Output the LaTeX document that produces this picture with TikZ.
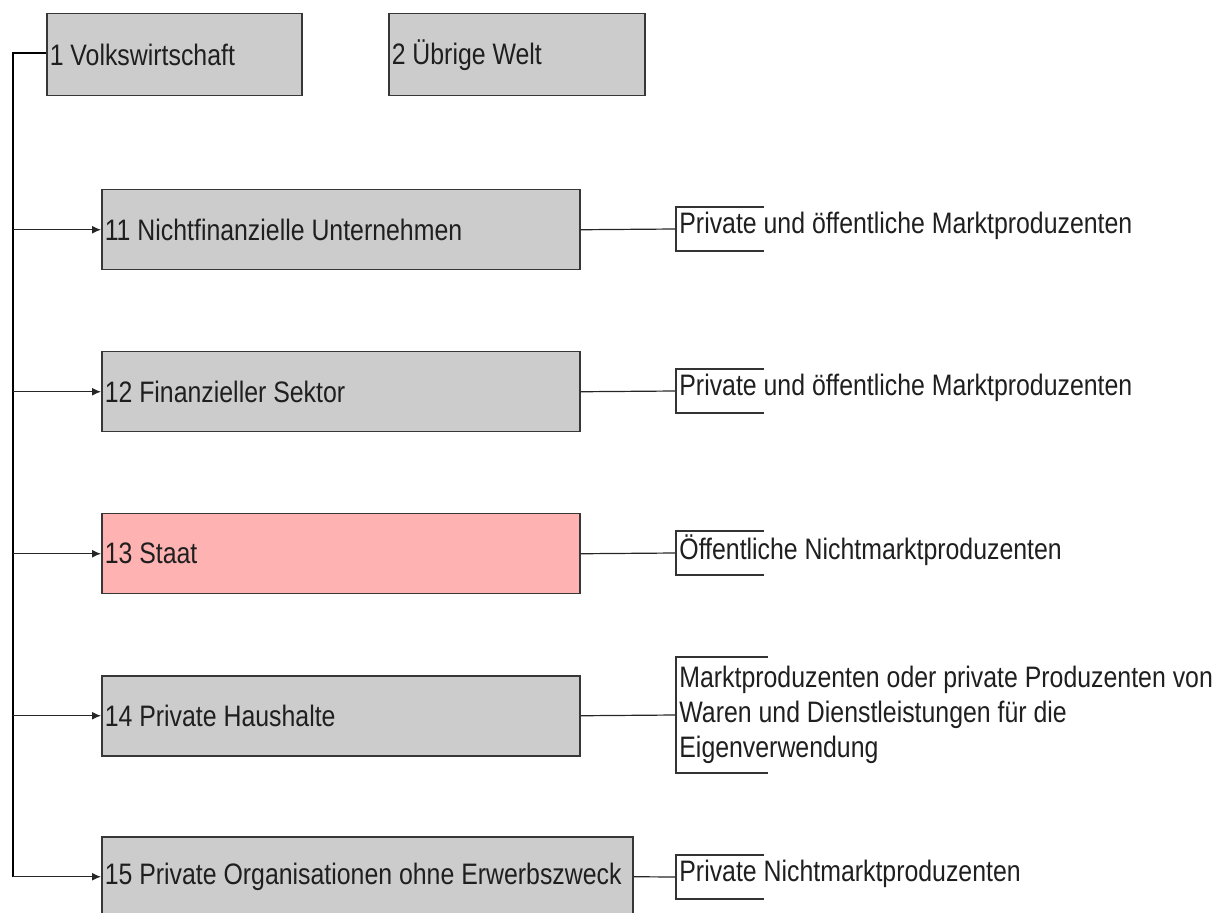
\documentclass[tikz,border=0pt]{standalone}
\usepackage{fontspec}
\setmainfont{Liberation Sans}[FakeStretch=0.84]
\usetikzlibrary{arrows.meta}
\definecolor{boxgray}{RGB}{204,204,204}
\definecolor{boxpink}{RGB}{255,178,178}
\definecolor{edge}{RGB}{55,55,55}
\tikzset{
  lbl/.style={font=\fontsize{14.8pt}{17.5pt}\selectfont, text=black!88},
  sector/.style={lbl, draw=edge, line width=0.75pt, fill=boxgray, anchor=north west,
    minimum height=40pt, inner xsep=1.5pt, align=flush left},
  wide/.style={minimum width=239pt, text width=236pt},
  desc/.style={lbl, anchor=west, inner xsep=1.5pt, inner ysep=0pt, align=flush left},
  link/.style={draw=black!85, line width=0.6pt},
  branch/.style={link, -{Latex[length=4.5pt,width=4pt]}},
  trunk/.style={draw=black, line width=1pt},
  bracket/.style={draw=black!80, line width=0.65pt}
}
\begin{document}
\begin{tikzpicture}[x=0.5pt,y=-0.5pt]
\useasboundingbox (0,0) rectangle (1230,913);
\clip (0,0) rectangle (1230,913);

% top level
\node[sector, minimum width=127.5pt, minimum height=41pt, text width=124.5pt] (b1) at (46,13) {1 Volkswirtschaft};
\node[sector, minimum width=128pt, minimum height=41pt, text width=125pt] (b2) at (388,13) {2 Übrige Welt};

% sectors
\node[sector, wide] (b11) at (101,189) {11 Nichtfinanzielle Unternehmen};
\node[sector, wide] (b12) at (101,351) {12 Finanzieller Sektor};
\node[sector, wide, fill=boxpink] (b13) at (101,513) {13 Staat};
\node[sector, wide] (b14) at (101,675) {14 Private Haushalte};
\node[sector, minimum width=265.5pt, text width=262.5pt] (b15) at (101,836) {15 Private Organisationen ohne Erwerbszweck};

% trunk with branches
\coordinate (t0) at (13,53);
\coordinate (t1) at (13,877);
\draw[trunk] (b1.west |- t0) -- (t0) -- (t1);
\foreach \b in {b11,b12,b13,b14,b15}
  \draw[branch] (\b.west -| t0) -- (\b.west);

% descriptions
\coordinate (k11) at (676,229);
\coordinate (k12) at (676,391);
\coordinate (k13) at (676,553);
\coordinate (k14) at (676,715);
\coordinate (k15) at (676,877);

\node[desc, yshift=1.5pt] (d11) at (k11) {Private und öffentliche Marktproduzenten};
\node[desc, yshift=1.5pt] (d12) at (k12) {Private und öffentliche Marktproduzenten};
\node[desc, yshift=1.5pt] (d13) at (k13) {Öffentliche Nichtmarktproduzenten};
\node[desc, yshift=0pt] (d14) at (k14) {Marktproduzenten oder private Produzenten von\\Waren und Dienstleistungen für die\\Eigenverwendung};
\node[desc, yshift=1.5pt] (d15) at (k15) {Private Nichtmarktproduzenten};

\foreach \i in {11,12,13,14,15}
  \draw[link] (b\i.east) -- (k\i);

\foreach \i in {11,12,13,15}
  \draw[bracket] (k\i) ++(88,-22) -- ++(-88,0) -- ++(0,44) -- ++(88,0);
\draw[bracket] (k14) ++(92,-58) -- ++(-92,0) -- ++(0,116) -- ++(92,0);
\end{tikzpicture}
\end{document}
